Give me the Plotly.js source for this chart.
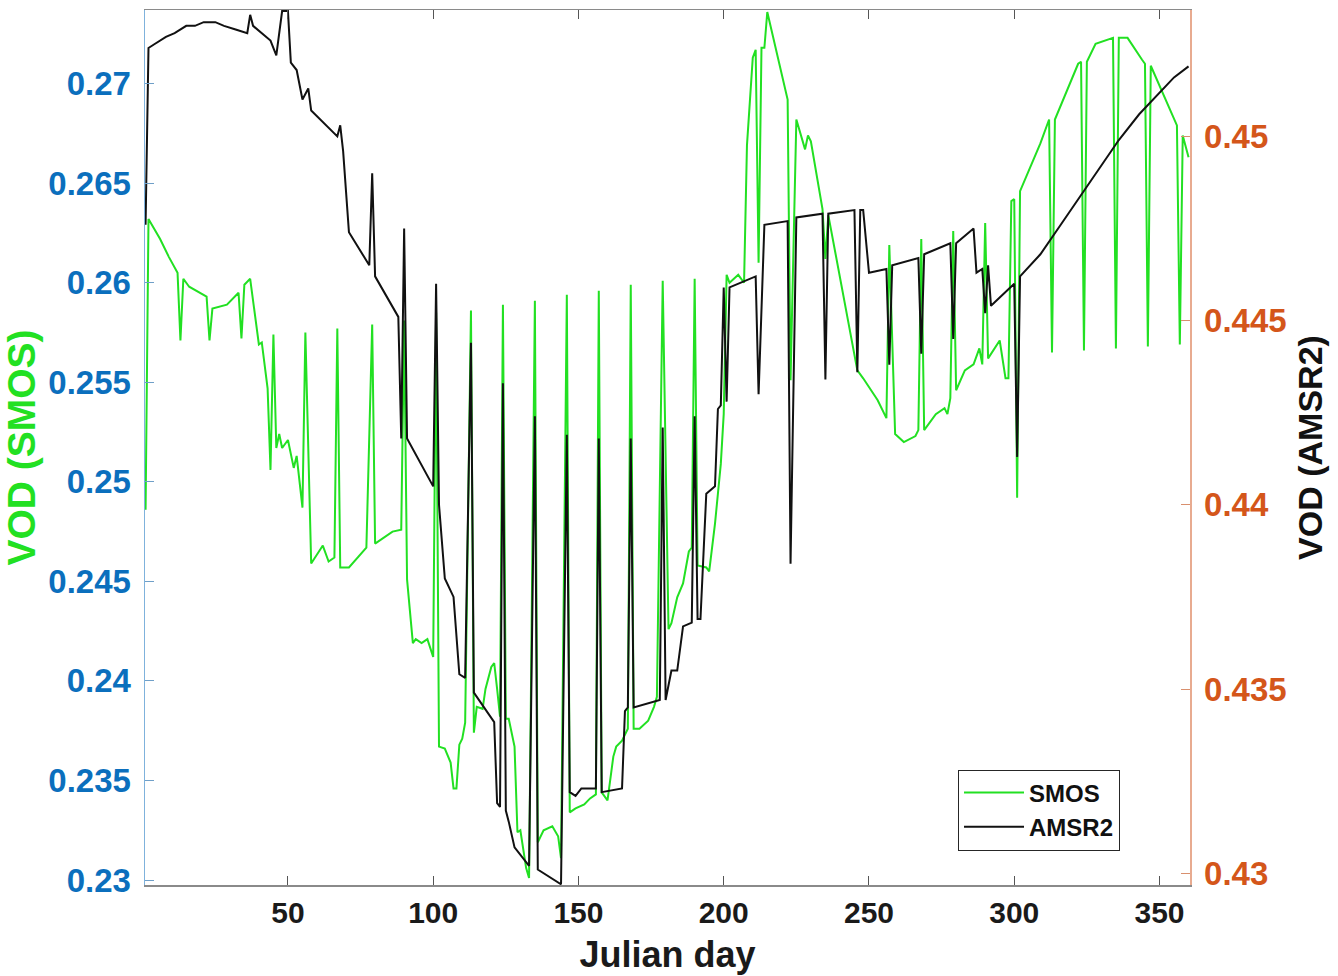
<!DOCTYPE html>
<html>
<head>
<meta charset="utf-8">
<script src="https://cdn.plot.ly/plotly-3.0.1.min.js"></script>
<style>html,body{margin:0;padding:0;background:#fff;}#chart{width:1338px;height:976px;}</style>
</head>
<body>
<div id="chart"></div>
<script>
// ---- Data ----
const smosDays = [1,2,6,9,12,13,14,16,22,23,24,29,33,34,35,37,40,41,43,44,45,46,47,48,50,52,53,55,56,58,62,64,66,67,68,71,77,79,80,86,89,90,91,93,94,96,98,100,101,102,104,106,107,108,109,110,111,113,114,115,117,118,120,121,122,123,124,125,126,128,129,130,132,133,135,136,138,141,143,144,146,147,149,152,154,156,157,158,160,162,163,165,167,168,169,171,174,176,177,179,181,182,184,186,188,189,190,191,194,195,197,199,200,201,202,205,207,208,210,211,212,213,214,215,222,223,225,227,228,229,230,234,235,236,245,246,248,253,256,257,259,262,266,267,268,269,273,276,277,278,279,280,283,286,288,289,290,291,295,297,298,299,300,301,302,309,312,313,314,322,323,324,325,328,334,335,336,339,344,345,346,347,356,357,358,360];
const smosVals = [0.2486,0.2632,0.2622,0.2613,0.2605,0.2571,0.2602,0.2598,0.2593,0.2571,0.2587,0.2589,0.2595,0.2572,0.2599,0.2602,0.2569,0.2570,0.2547,0.2506,0.2574,0.2517,0.2524,0.2517,0.2521,0.2507,0.2513,0.2487,0.2575,0.2459,0.2468,0.2460,0.2462,0.2577,0.2457,0.2457,0.2467,0.2579,0.2469,0.2475,0.2476,0.2581,0.2451,0.2419,0.2421,0.2419,0.2421,0.2412,0.2585,0.2367,0.2366,0.2359,0.2346,0.2346,0.2368,0.2371,0.2379,0.2586,0.2374,0.2387,0.2386,0.2396,0.2407,0.2409,0.2396,0.2382,0.2589,0.2381,0.2381,0.2367,0.2324,0.2325,0.2306,0.2301,0.2591,0.2319,0.2325,0.2327,0.2322,0.2311,0.2594,0.2334,0.2336,0.2338,0.2341,0.2343,0.2596,0.2344,0.2340,0.2362,0.2367,0.2370,0.2376,0.2599,0.2376,0.2376,0.2380,0.2387,0.2392,0.2601,0.2426,0.2429,0.2442,0.2449,0.2465,0.2467,0.2602,0.2458,0.2457,0.2455,0.2479,0.2509,0.2534,0.2604,0.2600,0.2604,0.2600,0.2669,0.2713,0.2717,0.2610,0.2718,0.2718,0.2736,0.2692,0.2551,0.2682,0.2672,0.2667,0.2674,0.2671,0.2637,0.2612,0.2634,0.2564,0.2556,0.2552,0.2541,0.2532,0.2619,0.2524,0.2520,0.2523,0.2526,0.2622,0.2526,0.2534,0.2537,0.2534,0.2542,0.2626,0.2546,0.2556,0.2559,0.2567,0.2559,0.2630,0.2562,0.2571,0.2552,0.2552,0.2641,0.2642,0.2492,0.2646,0.2670,0.2682,0.2565,0.2682,0.2710,0.2711,0.2566,0.2711,0.2720,0.2723,0.2567,0.2723,0.2723,0.2712,0.2710,0.2568,0.2709,0.2679,0.2569,0.2674,0.2663];

const amsrDays = [1,2,4,8,11,15,18,21,25,28,32,36,37,38,44,46,48,50,51,53,55,57,58,67,68,69,71,78,79,80,88,89,90,91,100,101,102,104,107,109,111,113,114,121,122,123,124,125,126,128,133,135,136,144,146,147,149,151,156,157,158,165,166,167,168,169,178,179,180,182,184,186,189,190,191,192,194,197,198,199,200,201,202,211,212,214,222,223,225,234,235,236,245,246,247,248,250,256,257,258,267,268,269,278,279,280,286,287,289,290,291,292,300,301,302,309,316,323,330,336,343,350,355,360];
const amsrVals = [0.4476,0.4524,0.4525,0.4527,0.4528,0.4530,0.4530,0.4531,0.4531,0.4530,0.4529,0.4528,0.4533,0.4530,0.4526,0.4522,0.4534,0.4534,0.4520,0.4518,0.4510,0.4513,0.4507,0.4500,0.4503,0.4496,0.4474,0.4465,0.4490,0.4462,0.4451,0.4418,0.4475,0.4418,0.4405,0.4460,0.4400,0.4380,0.4375,0.4354,0.4353,0.4444,0.4349,0.4341,0.4319,0.4318,0.4433,0.4317,0.4314,0.4307,0.4302,0.4424,0.4301,0.4297,0.4419,0.4322,0.4321,0.4323,0.4323,0.4418,0.4322,0.4323,0.4344,0.4345,0.4418,0.4345,0.4347,0.4421,0.4347,0.4355,0.4355,0.4367,0.4368,0.4424,0.4369,0.4369,0.4403,0.4405,0.4426,0.4427,0.4459,0.4428,0.4459,0.4462,0.4430,0.4476,0.4477,0.4384,0.4478,0.4479,0.4434,0.4479,0.4480,0.4436,0.4480,0.4480,0.4463,0.4464,0.4438,0.4465,0.4467,0.4441,0.4468,0.4471,0.4445,0.4471,0.4475,0.4463,0.4464,0.4452,0.4465,0.4454,0.4460,0.4413,0.4462,0.4468,0.4476,0.4484,0.4492,0.4499,0.4506,0.4512,0.4516,0.4519];

const xTickVals = [50,100,150,200,250,300,350];
const xTickText = ['50','100','150','200','250','300','350'];
const yLeftTickVals = [0.23,0.235,0.24,0.245,0.25,0.255,0.26,0.265,0.27];
const yLeftTickText = ['0.23','0.235','0.24','0.245','0.25','0.255','0.26','0.265','0.27'];
const yRightTickVals = [0.43,0.435,0.44,0.445,0.45];
const yRightTickText = ['0.43','0.435','0.44','0.445','0.45'];

// ---- Chart ----
const FONT = 'Liberation Sans, Arial, Helvetica, sans-serif';
const traces = [
  {x: smosDays, y: smosVals, name: 'SMOS', type: 'scatter', mode: 'lines',
   line: {color: '#22e022', width: 2}, yaxis: 'y'},
  {x: amsrDays, y: amsrVals, name: 'AMSR2', type: 'scatter', mode: 'lines',
   line: {color: '#111111', width: 2}, yaxis: 'y2'}
];

const layout = {
  width: 1338, height: 976,
  margin: {l: 145, r: 148, t: 8, b: 90},
  paper_bgcolor: '#ffffff', plot_bgcolor: '#ffffff',
  font: {family: FONT, size: 30, color: '#111'},
  showlegend: true,
  legend: {x: 0.778, y: 0.132, xanchor: 'left', yanchor: 'top',
           bgcolor: '#ffffff', bordercolor: '#262626', borderwidth: 1,
           font: {family: FONT, size: 24, color: '#111', weight: 'bold'},
           itemwidth: 60, tracegroupgap: 0},
  xaxis: {range: [0.8, 360.5], tickvals: xTickVals, ticktext: xTickText,
          ticks: 'inside', ticklen: 9, tickwidth: 1, tickcolor: '#555',
          showline: true, linecolor: '#8a8a8a', linewidth: 1.5, mirror: 'ticks',
          showgrid: false, zeroline: false, automargin: true,
          tickfont: {family: FONT, size: 30, color: '#1a1a1a', weight: 'bold'},
          title: {text: 'Julian day', font: {family: FONT, size: 36, color: '#1a1a1a', weight: 'bold'}, standoff: 14}},
  yaxis: {range: [0.22975, 0.2737], tickvals: yLeftTickVals, ticktext: yLeftTickText,
          ticks: 'inside', ticklen: 9, tickwidth: 1, tickcolor: '#6f9fc8',
          showline: true, linecolor: '#7fb2dc', linewidth: 1.5,
          showgrid: false, zeroline: false, ticklabelstandoff: 6, automargin: true,
          tickfont: {family: FONT, size: 33, color: '#0b6fbd', weight: 'bold'},
          title: {text: 'VOD (SMOS)', font: {family: FONT, size: 39, color: '#22e022', weight: 'bold'}, standoff: 4}},
  yaxis2: {range: [0.42968, 0.45343], overlaying: 'y', side: 'right',
           tickvals: yRightTickVals, ticktext: yRightTickText,
           ticks: 'inside', ticklen: 9, tickwidth: 1, tickcolor: '#d9906e',
           showline: true, linecolor: '#e8ab90', linewidth: 1.5,
           showgrid: false, zeroline: false, ticklabelstandoff: 6, automargin: true,
           tickfont: {family: FONT, size: 33, color: '#d4561a', weight: 'bold'},
           title: {text: 'VOD (AMSR2)', font: {family: FONT, size: 34, color: '#111', weight: 'bold'}, standoff: 12}}
};

Plotly.newPlot('chart', traces, layout, {displayModeBar: false, staticPlot: true});
</script>
</body>
</html>
